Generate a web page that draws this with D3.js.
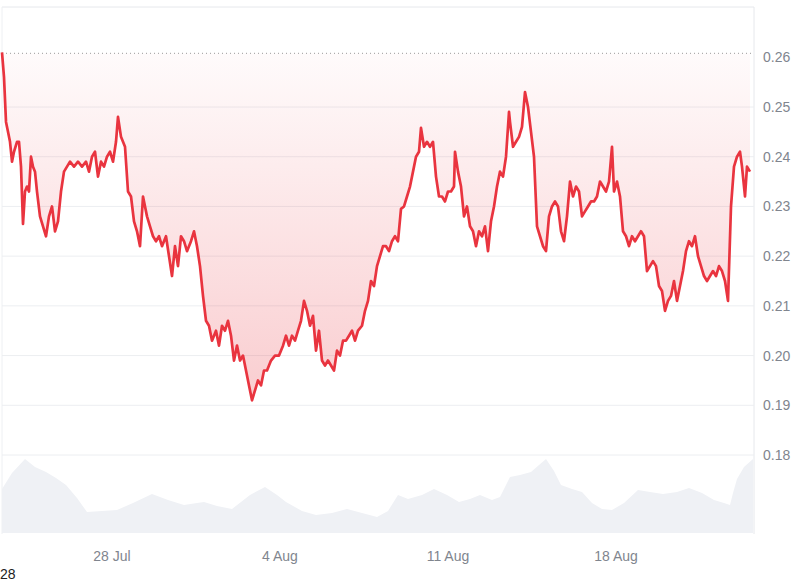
<!DOCTYPE html>
<html><head><meta charset="utf-8">
<script src="https://cdn.jsdelivr.net/npm/d3@7"></script>
<style>body{margin:0;background:#fff;font-family:"Liberation Sans",Arial,sans-serif}</style>
</head><body><div id="chart"></div>
<script>
'use strict';

// price series: hours since start, price
const hours = [0,2,4,6,8,10,12,15,17,19,21,23,25,27,29,31,33,35,38,41,44,47,50,53,56,59,62,65,68,72,76,80,84,87,90,93,96,99,102,105,108,111,114,116,119,123,126,129,132,135,138,141,145,148,151,154,157,160,164,167,170,173,176,179,182,185,189,192,195,198,201,204,207,210,214,217,220,223,226,229,232,235,238,241,244,247,250,253,256,259,262,265,269,273,277,281,284,287,290,293,296,299,302,305,308,311,314,317,320,323,326,329,332,335,338,341,344,347,350,353,356,360,363,366,369,372,375,378,381,384,387,390,393,396,399,402,405,408,411,414,417,419,422,425,428,431,434,437,440,443,446,449,452,453,456,459,462,465,468,471,474,477,480,483,486,489,492,495,498,501,504,507,508,511,514,517,520,523,526,529,532,535,538,541,544,547,550,553,556,559,562,565,568,571,574,577,580,583,586,589,592,595,598,601,604,607,610,612,615,618,621,624,627,630,633,636,639,642,645,648,651,654,657,660,663,666,669,672,675,678,681,684,687,690,693,696,699,702,705,708,711,714,717,720,723,726,729,732,735,738,740,743,745,748,751];
const prices = [0.261,0.256,0.247,0.245,0.243,0.239,0.241,0.243,0.243,0.238,0.2265,0.233,0.234,0.233,0.240,0.238,0.237,0.233,0.228,0.226,0.224,0.228,0.230,0.225,0.227,0.233,0.237,0.238,0.239,0.238,0.239,0.238,0.239,0.237,0.240,0.241,0.236,0.239,0.238,0.240,0.241,0.239,0.243,0.248,0.244,0.242,0.233,0.232,0.227,0.225,0.222,0.232,0.228,0.226,0.224,0.223,0.224,0.222,0.224,0.220,0.216,0.222,0.218,0.224,0.223,0.221,0.223,0.225,0.222,0.218,0.212,0.207,0.206,0.203,0.205,0.202,0.206,0.205,0.207,0.204,0.199,0.202,0.199,0.200,0.197,0.194,0.191,0.193,0.195,0.194,0.197,0.197,0.199,0.200,0.200,0.202,0.204,0.202,0.204,0.203,0.205,0.207,0.211,0.209,0.206,0.208,0.201,0.205,0.199,0.198,0.199,0.198,0.197,0.201,0.200,0.203,0.203,0.204,0.205,0.203,0.205,0.206,0.209,0.211,0.215,0.214,0.218,0.220,0.222,0.222,0.221,0.223,0.224,0.223,0.2295,0.230,0.232,0.234,0.237,0.240,0.241,0.2458,0.242,0.243,0.242,0.243,0.236,0.232,0.232,0.231,0.233,0.233,0.234,0.241,0.237,0.234,0.228,0.230,0.226,0.225,0.222,0.225,0.224,0.226,0.221,0.227,0.230,0.234,0.237,0.236,0.240,0.249,0.247,0.242,0.243,0.244,0.246,0.253,0.250,0.245,0.240,0.226,0.224,0.222,0.221,0.228,0.230,0.231,0.230,0.225,0.223,0.228,0.235,0.232,0.234,0.233,0.228,0.229,0.230,0.231,0.231,0.232,0.235,0.234,0.233,0.235,0.242,0.233,0.235,0.232,0.225,0.224,0.222,0.224,0.223,0.224,0.225,0.224,0.217,0.218,0.219,0.218,0.214,0.213,0.209,0.211,0.212,0.215,0.211,0.214,0.217,0.221,0.223,0.222,0.224,0.220,0.218,0.216,0.215,0.216,0.217,0.216,0.218,0.217,0.215,0.211,0.230,0.238,0.240,0.241,0.238,0.232,0.238,0.237];

// volume series: hours since start, relative volume
const volHours = [0,10,23,33,44,54,64,75,85,100,115,131,150,166,182,195,202,215,230,248,263,275,284,300,314,330,345,360,375,386,396,406,420,432,445,457,468,478,490,498,508,518,529,537,544,552,559,570,580,590,600,610,622,636,648,661,675,687,700,712,722,728,731,735,742,751];
const volumes = [44,60,74,66,61,55,48,35,21,22,23,30,39,33,28,30,31,27,24,38,46,38,31,22,18,20,24,20,16,22,38,34,38,44,38,31,34,38,33,36,56,58,61,68,74,62,48,44,41,30,24,23,30,43,41,39,41,45,40,33,30,28,40,54,66,74];

const yTicks = [0.18,0.19,0.20,0.21,0.22,0.23,0.24,0.25,0.26];
const xTicks = ['2025-07-28','2025-08-04','2025-08-11','2025-08-18'];
const startTime = new Date('2025-07-23T10:00:00');
const refPrice = 0.2608;

const width = 800, height = 581;
const plotLeft = 2, plotRight = 754, plotTop = 7;
const red = '#e9343f';

const svg = d3.select('#chart').append('svg')
    .attr('width', width).attr('height', height);

const toDate = h => new Date(startTime.getTime() + h * 3600e3);

// scales
const x = d3.scaleTime()
    .domain([startTime, toDate(752)])
    .range([plotLeft, plotRight]);
const y = d3.scaleLinear().domain([0.18, 0.25]).range([455, 107]);
const yVol = d3.scaleLinear().domain([0, 80]).range([533, 453]);

const n = Math.min(hours.length, prices.length);
const data = hours.slice(0, n).map((h, i) => ({t: toDate(h), p: prices[i]}));
const vol = volHours.map((h, i) => ({t: toDate(h), v: volumes[i]}));

// gradient for price fill
const defs = svg.append('defs');
const grad = defs.append('linearGradient').attr('id', 'fillGrad')
    .attr('gradientUnits', 'userSpaceOnUse')
    .attr('x1', 0).attr('x2', 0)
    .attr('y1', y(refPrice)).attr('y2', y(0.19));
grad.append('stop').attr('offset', 0).attr('stop-color', red).attr('stop-opacity', 0.02);
grad.append('stop').attr('offset', 1).attr('stop-color', red).attr('stop-opacity', 0.25);

// frame
svg.append('line').attr('x1', plotLeft).attr('x2', plotRight).attr('y1', plotTop).attr('y2', plotTop).attr('stroke', '#e6e8ec');
svg.append('line').attr('x1', plotRight).attr('x2', plotRight).attr('y1', plotTop).attr('y2', 534).attr('stroke', '#e6e8ec');
svg.append('line').attr('x1', plotLeft).attr('x2', plotLeft).attr('y1', plotTop).attr('y2', 534).attr('stroke', '#eef0f3');

// grid lines
svg.append('g').selectAll('line').data(yTicks.filter(d => d < 0.26)).join('line')
    .attr('x1', plotLeft).attr('x2', plotRight)
    .attr('y1', d => y(d)).attr('y2', d => y(d))
    .attr('stroke', '#eceef1');

// volume area
svg.append('path').datum(vol)
    .attr('fill', '#eff1f5')
    .attr('d', d3.area().x(d => x(d.t)).y0(yVol(0)).y1(d => yVol(d.v)));

// price fill between reference line and price
svg.append('path').datum(data)
    .attr('fill', 'url(#fillGrad)')
    .attr('d', d3.area().x(d => x(d.t)).y0(y(refPrice)).y1(d => y(d.p)));

// dotted reference line
svg.append('line').attr('x1', plotLeft).attr('x2', plotRight)
    .attr('y1', y(refPrice)).attr('y2', y(refPrice))
    .attr('stroke', '#999').attr('stroke-dasharray', '1,3');

// price line
svg.append('path').datum(data)
    .attr('fill', 'none').attr('stroke', red).attr('stroke-width', 2.7)
    .attr('stroke-linejoin', 'round')
    .attr('d', d3.line().x(d => x(d.t)).y(d => y(d.p)));

// y labels
svg.append('g').selectAll('text').data(yTicks).join('text')
    .attr('x', 763).attr('y', d => y(d) + 5)
    .attr('font-size', 14).attr('fill', '#80858e')
    .text(d => d.toFixed(2));

// x labels
const fmt = d3.timeFormat('%-d %b');
svg.append('g').selectAll('text').data(xTicks).join('text')
    .attr('x', d => x(new Date(d + 'T00:00:00'))).attr('y', 561)
    .attr('text-anchor', 'middle')
    .attr('font-size', 14).attr('fill', '#80858e')
    .text(d => fmt(new Date(d + 'T00:00:00')));

svg.append('text').attr('x', 0).attr('y', 579)
    .attr('font-size', 14).attr('fill', '#222').text('28');
</script>
</body></html>
